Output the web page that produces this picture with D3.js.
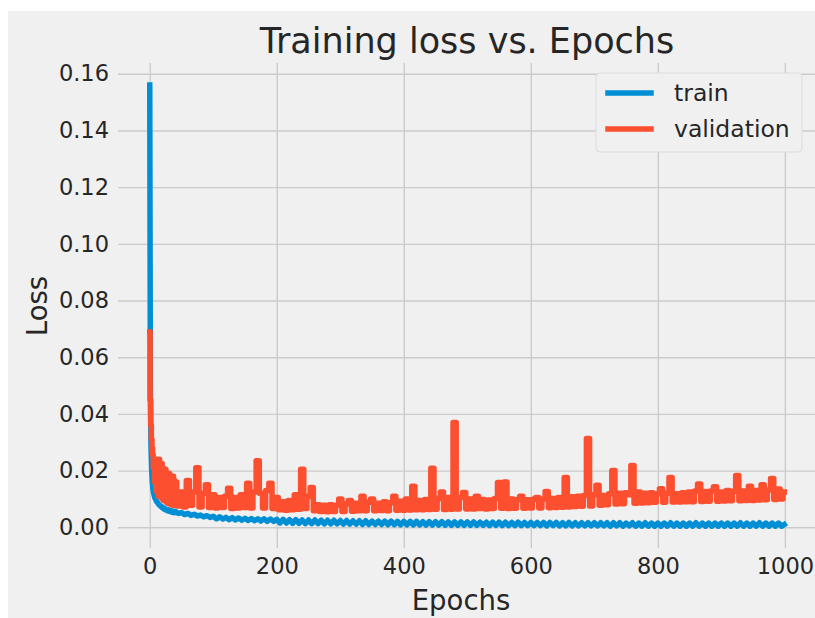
<!DOCTYPE html>
<html>
<head>
<meta charset="utf-8">
<script src="https://d3js.org/d3.v7.min.js"></script>
<style>
  body { margin: 0; background: #fff; }
  text { font-family: "DejaVu Sans", sans-serif; fill: #262626; }
</style>
</head>
<body>
<div id="chart"></div>
<script>
// epochs sampled: every epoch up to 39, then every 5, last one is 999
const epochs = d3.range(0, 40).concat(d3.range(40, 1000, 5), [999]);

const trainLoss = [
  .156,.045,.028,.020,.016,.0135,.0122,.0112,.0104,.0099,
  .0095,.0090,.0088,.0084,.0082,.0078,.0078,.0074,.0074,.0070,
  .0071,.0067,.0068,.0064,.0066,.0062,.0064,.0060,.0062,.0058,
  .0061,.0057,.0059,.0055,.0058,.0054,.0057,.0053,.0056,.0052,
  // 40..100
  .0056,.0049,.0052,.0045,.0049,.0042,.0046,.0040,.0043,.0037,.0041,.0035,.0039,
  // 105..200
  .0030,.0037,.0029,.0035,.0027,.0034,.0026,.0033,.0025,.0032,
  .0024,.0031,.0023,.0030,.0022,.0030,.0021,.0029,.0021,.0028,
  // 205..300
  .0015,.0028,.0015,.0027,.0014,.0027,.0014,.0026,.0013,.0026,
  .0013,.0026,.0013,.0025,.0012,.0025,.0012,.0025,.0012,.0024,
  // 305..400
  .0011,.0024,.0011,.0023,.0011,.0023,.0010,.0023,.0010,.0022,
  .0010,.0022,.0010,.0022,.0009,.0022,.0009,.0021,.0009,.0021,
  // 405..500
  .0009,.0021,.0008,.0021,.0008,.0020,.0008,.0020,.0008,.0020,
  .0008,.0020,.0007,.0019,.0007,.0019,.0007,.0019,.0007,.0019,
  // 505..600
  .0007,.0019,.0007,.0018,.0007,.0018,.0006,.0018,.0007,.0018,
  .0006,.0018,.0006,.0017,.0006,.0018,.0006,.0017,.0006,.0017,
  // 605..700
  .0006,.0017,.0006,.0017,.0005,.0017,.0006,.0017,.0005,.0016,
  .0005,.0017,.0005,.0016,.0005,.0016,.0005,.0016,.0005,.0016,
  // 705..800
  .0005,.0016,.0005,.0016,.0004,.0016,.0005,.0016,.0004,.0015,
  .0005,.0016,.0004,.0015,.0004,.0016,.0004,.0015,.0004,.0015,
  // 805..900
  .0004,.0015,.0004,.0016,.0004,.0015,.0004,.0015,.0004,.0015,
  .0004,.0016,.0004,.0015,.0004,.0015,.0004,.0015,.0004,.0015,
  // 905..999
  .0004,.0015,.0004,.0015,.0004,.0016,.0004,.0015,.0004,.0015,
  .0004,.0016,.0004,.0015,.0004,.0015,.0004,.0015,.0004,.0010
];

const valLoss = [
  .069,.045,.036,.031,.028,.0255,.021,.024,.016,.023,
  .013,.024,.0125,.0235,.011,.024,.0115,.022,.0105,.0225,
  .010,.021,.0095,.020,.0095,.0205,.009,.019,.0085,.0185,
  .0085,.019,.0082,.0175,.008,.0165,.0078,.018,.0078,.0165,
  // 40..100
  .0160,.0075,.0125,.0072,.0165,.0078,.0125,.0210,.0072,.0120,.0150,.0070,.0115,
  // 105..200
  .0068,.0105,.0070,.0110,.0138,.0066,.0105,.0068,.0115,.0070,
  .0155,.0068,.0125,.0235,.0120,.0068,.0130,.0155,.0066,.0105,
  // 205..300
  .0062,.0090,.0060,.0095,.0062,.0115,.0064,.0205,.0066,.0110,
  .0140,.0058,.0080,.0056,.0078,.0055,.0080,.0056,.0078,.0100,
  // 305..400
  .0056,.0082,.0095,.0057,.0085,.0058,.0110,.0058,.0088,.0100,
  .0058,.0085,.0059,.0090,.0058,.0087,.0110,.0060,.0092,.0060,
  // 405..500
  .0100,.0061,.0145,.0062,.0095,.0062,.0098,.0063,.0208,.0064,
  .0102,.0125,.0063,.0105,.0064,.0370,.0065,.0105,.0123,.0065,
  // 505..600
  .0100,.0065,.0110,.0066,.0098,.0065,.0096,.0066,.0102,.0158,
  .0067,.0160,.0066,.0100,.0067,.0098,.0110,.0067,.0097,.0068,
  // 605..700
  .0099,.0105,.0068,.0100,.0126,.0069,.0102,.0070,.0105,.0071,
  .0176,.0072,.0108,.0073,.0110,.0074,.0112,.0313,.0075,.0115,
  // 705..800
  .0148,.0078,.0112,.0080,.0118,.0200,.0082,.0120,.0083,.0122,
  .0115,.0218,.0085,.0125,.0086,.0120,.0087,.0122,.0088,.0118,
  // 805..900
  .0136,.0088,.0120,.0176,.0089,.0118,.0089,.0122,.0090,.0125,
  .0090,.0128,.0153,.0091,.0126,.0092,.0128,.0143,.0092,.0125,
  // 905..999
  .0093,.0130,.0094,.0127,.0183,.0094,.0128,.0095,.0145,.0095,
  .0130,.0096,.0150,.0097,.0132,.0172,.0098,.0135,.0100,.0125
];

const xTicks = [0, 200, 400, 600, 800, 1000];
const yTicks = [0, 0.02, 0.04, 0.06, 0.08, 0.10, 0.12, 0.14, 0.16];
const seriesNames = ["train", "validation"];
const colors = ["#008fd5", "#fc4f30"];

if (trainLoss.length !== epochs.length || valLoss.length !== epochs.length) {
  console.warn("length mismatch", epochs.length, trainLoss.length, valLoss.length);
}

const W = 815, H = 618;
const plot = { left: 118, right: 816, top: 63, bottom: 548 };

const svg = d3.select("#chart")
  .append("svg")
  .attr("width", W)
  .attr("height", H);

// figure background (screenshot has a thin white edge top/left)
svg.append("rect").attr("x", 8).attr("y", 11)
  .attr("width", W - 8).attr("height", H - 11)
  .attr("fill", "#f0f0f0");

const x = d3.scaleLinear().domain([-50, 1049]).range([plot.left, plot.right]);
const y = d3.scaleLinear().domain([-0.0073, 0.1638]).range([plot.bottom, plot.top]);

// x axis + vertical grid
const xAxis = svg.append("g")
  .attr("transform", `translate(0,${plot.bottom})`)
  .call(d3.axisBottom(x).tickValues(xTicks).tickFormat(d3.format("d"))
    .tickSize(-(plot.bottom - plot.top)).tickPadding(10));
xAxis.select(".domain").remove();
xAxis.selectAll("line").attr("stroke", "#cbcbcb").attr("stroke-width", 1.4);
xAxis.selectAll("text").attr("font-size", "22.5px").attr("fill", "#262626");

// y axis + horizontal grid
const yAxis = svg.append("g")
  .attr("transform", `translate(${plot.left},0)`)
  .call(d3.axisLeft(y).tickValues(yTicks).tickFormat(d3.format(".2f"))
    .tickSize(-(plot.right - plot.left)).tickPadding(9));
yAxis.select(".domain").remove();
yAxis.selectAll("line").attr("stroke", "#cbcbcb").attr("stroke-width", 1.4);
yAxis.selectAll("text").attr("font-size", "22.5px").attr("fill", "#262626");

// lines (validation drawn as steps so single-epoch spikes stay narrow bars)
const curves = [d3.curveLinear, d3.curveStep];
[trainLoss, valLoss].forEach((vals, k) => {
  const line = d3.line()
    .x((d, i) => x(epochs[i]))
    .y(d => y(d))
    .curve(curves[k]);
  svg.append("path")
    .datum(vals)
    .attr("fill", "none")
    .attr("stroke", colors[k])
    .attr("stroke-width", 5.5)
    .attr("stroke-linejoin", "round")
    .attr("stroke-linecap", "square")
    .attr("d", line);
});

// title and axis labels
svg.append("text")
  .attr("x", (plot.left + plot.right) / 2)
  .attr("y", 53)
  .attr("text-anchor", "middle")
  .attr("font-size", "35px")
  .text("Training loss vs. Epochs");

svg.append("text")
  .attr("x", 461)
  .attr("y", 610)
  .attr("text-anchor", "middle")
  .attr("font-size", "27.5px")
  .text("Epochs");

svg.append("text")
  .attr("transform", "translate(47,306) rotate(-90)")
  .attr("text-anchor", "middle")
  .attr("font-size", "27.5px")
  .text("Loss");

// legend
const legend = svg.append("g");
legend.append("rect")
  .attr("x", 596).attr("y", 73)
  .attr("width", 206).attr("height", 79)
  .attr("rx", 4)
  .attr("fill", "#f0f0f0")
  .attr("stroke", "#dcdcdc")
  .attr("stroke-width", 1);

seriesNames.forEach((name, i) => {
  const ly = 93 + i * 36;
  legend.append("line")
    .attr("x1", 608).attr("x2", 651)
    .attr("y1", ly).attr("y2", ly)
    .attr("stroke", colors[i])
    .attr("stroke-width", 5.5)
    .attr("stroke-linecap", "square");
  legend.append("text")
    .attr("x", 674).attr("y", ly + 8)
    .attr("font-size", "23.5px")
    .text(name);
});
</script>
</body>
</html>
